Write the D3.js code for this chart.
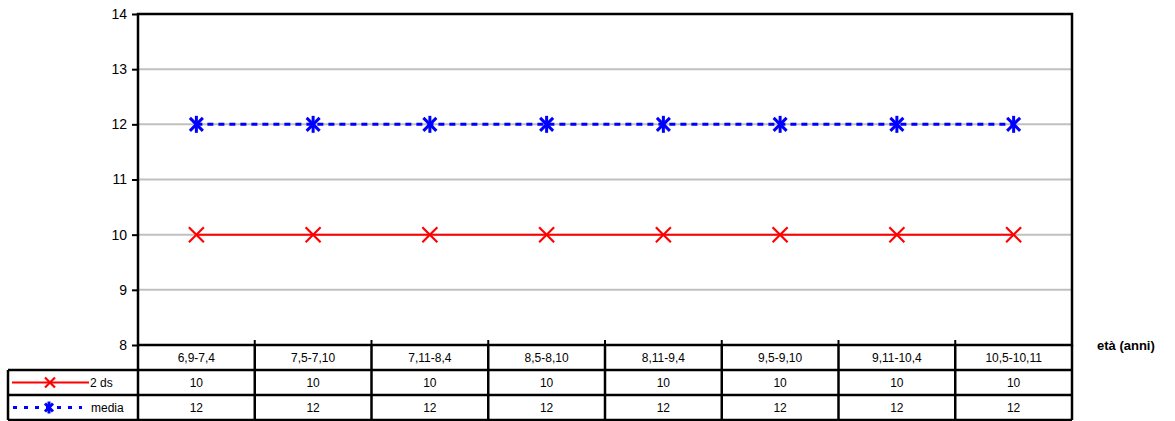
<!DOCTYPE html>
<html>
<head>
<meta charset="utf-8">
<script src="https://cdn.jsdelivr.net/npm/d3@7"></script>
<style>
  body { margin: 0; background: #fff; }
  text { font-family: "Liberation Sans", Arial, sans-serif; fill: #000; }
</style>
</head>
<body>
<div id="chart"></div>
<script>
// data
var categories = ["6,9-7,4", "7,5-7,10", "7,11-8,4", "8,5-8,10", "8,11-9,4", "9,5-9,10", "9,11-10,4", "10,5-10,11"];
var ds2 = [10, 10, 10, 10, 10, 10, 10, 10];
var media = [12, 12, 12, 12, 12, 12, 12, 12];
var yTicks = [8, 9, 10, 11, 12, 13, 14];
var seriesNames = ["2 ds", "media"];

var width = 1175, height = 421;
var plotL = 138, plotR = 1072, plotT = 14, plotB = 345;
var rowH = 25;

var svg = d3.select("#chart").append("svg")
    .attr("width", width)
    .attr("height", height);

var x = d3.scaleBand().domain(categories).range([plotL, plotR]);
var y = d3.scaleLinear().domain([8, 14]).range([plotB, plotT]);

// gridlines
svg.selectAll("line.grid")
    .data(yTicks.filter(function (d) { return d > 8 && d < 14; }))
    .enter().append("line")
    .attr("class", "grid")
    .attr("x1", plotL).attr("x2", plotR)
    .attr("y1", function (d) { return y(d); })
    .attr("y2", function (d) { return y(d); })
    .attr("stroke", "#c0c0c0")
    .attr("stroke-width", 2);

// y axis
var yAxis = svg.append("g")
    .attr("transform", "translate(" + plotL + ",0)")
    .call(d3.axisLeft(y).tickValues(yTicks).tickFormat(d3.format("d")).tickSize(6).tickPadding(5));
yAxis.select(".domain").remove();
yAxis.selectAll(".tick line").attr("stroke", "#000").attr("stroke-width", 2);
yAxis.selectAll(".tick text").style("font-size", "14px").attr("fill", "#000")
    .style("font-family", "'Liberation Sans', Arial, sans-serif");

// column ticks at category boundaries
svg.selectAll("line.ctick")
    .data(categories.slice(1))
    .enter().append("line")
    .attr("x1", function (d) { return x(d); })
    .attr("x2", function (d) { return x(d); })
    .attr("y1", plotB - 5).attr("y2", plotB)
    .attr("stroke", "#000").attr("stroke-width", 2);

// plot frame
svg.append("rect")
    .attr("x", plotL).attr("y", plotT)
    .attr("width", plotR - plotL).attr("height", plotB - plotT)
    .attr("fill", "none").attr("stroke", "#000").attr("stroke-width", 2.5);

var cx = function (d, i) { return x(categories[i]) + x.bandwidth() / 2; };

function cross(g, size) {
    g.append("line").attr("x1", -size).attr("y1", -size).attr("x2", size).attr("y2", size);
    g.append("line").attr("x1", -size).attr("y1", size).attr("x2", size).attr("y2", -size);
}

// 2 ds series
var line = d3.line().x(cx).y(function (d) { return y(d); });
svg.append("path").datum(ds2)
    .attr("d", line)
    .attr("fill", "none").attr("stroke", "#ff0000").attr("stroke-width", 2);
svg.selectAll("g.m1").data(ds2).enter().append("g")
    .attr("transform", function (d, i) { return "translate(" + cx(d, i) + "," + y(d) + ")"; })
    .attr("stroke", "#ff0000").attr("stroke-width", 2.2)
    .each(function () { cross(d3.select(this), 7.5); });

// media series
svg.append("path").datum(media)
    .attr("d", line)
    .attr("fill", "none").attr("stroke", "#0000ff").attr("stroke-width", 3)
    .attr("stroke-dasharray", "6,5");
svg.selectAll("g.m2").data(media).enter().append("g")
    .attr("transform", function (d, i) { return "translate(" + cx(d, i) + "," + y(d) + ")"; })
    .attr("stroke", "#0000ff").attr("stroke-width", 3)
    .each(function () {
        var g = d3.select(this);
        cross(g, 6.5);
        g.append("line").attr("x1", 0).attr("y1", -8.5).attr("x2", 0).attr("y2", 8.5);
    });

// axis title
svg.append("text")
    .attr("x", 1097).attr("y", plotB + 5)
    .style("font-size", "13px").style("font-weight", "bold")
    .text("età (anni)");

// data table
var tbl = svg.append("g");
var tableL = 8;
var lineCol = "#000";

// header row
tbl.selectAll("text.hdr").data(categories).enter().append("text")
    .attr("x", function (d) { return x(d) + x.bandwidth() / 2; })
    .attr("y", plotB + rowH / 2 + 4)
    .attr("text-anchor", "middle")
    .style("font-size", "12px")
    .text(function (d) { return d; });

var rows = [ds2, media];
rows.forEach(function (vals, r) {
    var ry = plotB + rowH * (r + 1);
    tbl.selectAll("text.v" + r).data(vals).enter().append("text")
        .attr("x", function (d, i) { return cx(d, i); })
        .attr("y", ry + rowH / 2 + 4)
        .attr("text-anchor", "middle")
        .style("font-size", "12px")
        .text(function (d) { return d; });
});

// table grid lines
for (var r = 1; r <= 3; r++) {
    tbl.append("line")
        .attr("x1", tableL).attr("x2", plotR)
        .attr("y1", plotB + rowH * r).attr("y2", plotB + rowH * r)
        .attr("stroke", lineCol).attr("stroke-width", 2.5);
}
tbl.append("line")
    .attr("x1", tableL).attr("x2", tableL)
    .attr("y1", plotB + rowH).attr("y2", plotB + rowH * 3)
    .attr("stroke", lineCol).attr("stroke-width", 2.5);
var colX = categories.map(function (d) { return x(d); }).concat([plotR]);
tbl.selectAll("line.col").data(colX).enter().append("line")
    .attr("x1", function (d) { return d; }).attr("x2", function (d) { return d; })
    .attr("y1", plotB).attr("y2", plotB + rowH * 3)
    .attr("stroke", lineCol).attr("stroke-width", 2.5);

// legend keys in table
var k1y = plotB + rowH * 1.5, k2y = plotB + rowH * 2.5;
tbl.append("line").attr("x1", 12).attr("x2", 89).attr("y1", k1y).attr("y2", k1y)
    .attr("stroke", "#ff0000").attr("stroke-width", 2);
var km1 = tbl.append("g").attr("transform", "translate(50," + k1y + ")")
    .attr("stroke", "#ff0000").attr("stroke-width", 2.2);
cross(km1, 5);
tbl.append("text").attr("x", 90).attr("y", k1y + 4.5).style("font-size", "12px").text(seriesNames[0]);

tbl.append("line").attr("x1", 13).attr("x2", 82).attr("y1", k2y).attr("y2", k2y)
    .attr("stroke", "#0000ff").attr("stroke-width", 3).attr("stroke-dasharray", "4,7");
var km2 = tbl.append("g").attr("transform", "translate(49," + k2y + ")")
    .attr("stroke", "#0000ff").attr("stroke-width", 3);
cross(km2, 4);
km2.append("line").attr("x1", 0).attr("y1", -6).attr("x2", 0).attr("y2", 6);
tbl.append("text").attr("x", 91).attr("y", k2y + 4.5).style("font-size", "12px").text(seriesNames[1]);
</script>
</body>
</html>
